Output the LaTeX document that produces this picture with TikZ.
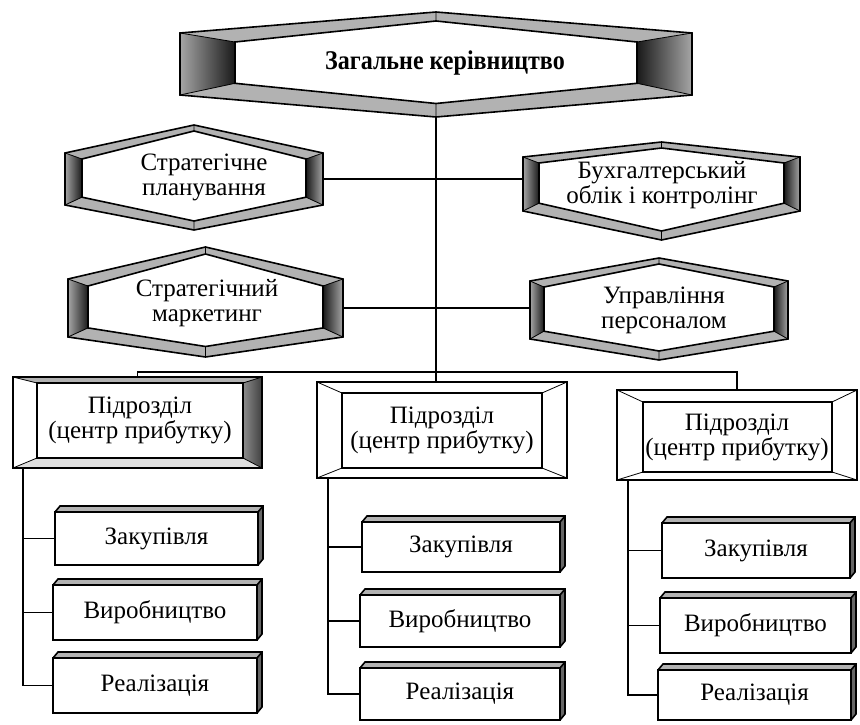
\documentclass[tikz,border=0pt]{standalone}
\usepackage{graphicx}
\usepackage{fontspec}
\setmainfont{Liberation Serif}
\usetikzlibrary{calc}

\tikzset{
  outline/.style={line width=1.6pt, line join=miter},
  thinline/.style={line width=0.8pt},
  conn/.style={line width=1.3pt},
  band/.style={fill=black!30},
  frame/.style={inner sep=0pt, outer sep=0pt, draw=none},
  txt/.style={align=center, inner sep=0pt, font=\fontsize{25}{25}\selectfont},
  ttl/.style={align=center, inner sep=0pt, font=\fontsize{27}{28}\selectfont\bfseries},
}

% Bevelled hexagon: #1 name, #2 left x, #3 right x, #4 top of sides, #5 bottom of sides,
% #6 top apex, #7 bottom apex, #8 side bevel width, #9 top/bottom bevel width
\newcommand\hexframe[9]{%
  \pgfmathsetmacro\hxM{(#2+#3)/2}%
  \pgfmathsetmacro\hxC{(#4+#5)/2}%
  \pgfmathsetmacro\hxW{#3-#2}%
  \pgfmathsetmacro\hxH{#5-#4}%
  \pgfmathsetmacro\hxL{#2+#8}%
  \pgfmathsetmacro\hxR{#3-#8}%
  \pgfmathsetmacro\hxT{#4+#9}%
  \pgfmathsetmacro\hxB{#5-#9*1.3}%
  \pgfmathsetmacro\hxAT{#6+#9}%
  \pgfmathsetmacro\hxAB{#7-#9*1.5}%
  \node[frame, minimum width=\hxW, minimum height=\hxH] (#1) at (\hxM,\hxC) {};
  \coordinate (#1-top) at (\hxM,#6);
  \coordinate (#1-bot) at (\hxM,#7);
  \fill[band] (#2,#4) -- (\hxM,#6) -- (#3,#4) -- (\hxR,\hxT) -- (\hxM,\hxAT) -- (\hxL,\hxT) -- cycle;
  \fill[band] (#2,#5) -- (\hxM,#7) -- (#3,#5) -- (\hxR,\hxB) -- (\hxM,\hxAB) -- (\hxL,\hxB) -- cycle;
  \shade[left color=black!35, middle color=black!40, right color=black!90]
    (#2,#4) -- (\hxL,\hxT) -- (\hxL,\hxB) -- (#2,#5) -- cycle;
  \shade[left color=black!90, middle color=black!40, right color=black!35]
    (\hxR,\hxT) -- (#3,#4) -- (#3,#5) -- (\hxR,\hxB) -- cycle;
  \draw[thinline] (#2,#4) -- (\hxL,\hxT) (\hxM,#6) -- (\hxM,\hxAT) (#3,#4) -- (\hxR,\hxT)
    (#3,#5) -- (\hxR,\hxB) (\hxM,#7) -- (\hxM,\hxAB) (#2,#5) -- (\hxL,\hxB);
  \draw[outline] (#2,#4) -- (\hxM,#6) -- (#3,#4) -- (#3,#5) -- (\hxM,#7) -- (#2,#5) -- cycle;
  \draw[outline] (\hxL,\hxT) -- (\hxM,\hxAT) -- (\hxR,\hxT) -- (\hxR,\hxB) -- (\hxM,\hxAB) -- (\hxL,\hxB) -- cycle;
}

% Bevelled rectangle: #1 name, #2..#5 outer corners, #6..#9 left/top/right/bottom bevel widths
\newcommand\bevbox[9]{%
  \node[frame, minimum width={#4-#2}, minimum height={#5-#3}] (#1) at ({(#2+#4)/2},{(#3+#5)/2}) {};
  \draw[thinline] (#2,#3) -- ({#2+#6},{#3+#7}) (#4,#3) -- ({#4-#8},{#3+#7})
    (#4,#5) -- ({#4-#8},{#5-#9}) (#2,#5) -- ({#2+#6},{#5-#9});
  \draw[outline] (#2,#3) rectangle (#4,#5);
  \draw[outline] ({#2+#6},{#3+#7}) rectangle ({#4-#8},{#5-#9});
}

% Box with a thin top face and right face: #1 name, #2..#5 front corners, #6 text
\newcommand\subbox[6]{%
  \fill[band] (#2,#3) -- ({#2+5},{#3-6}) -- ({#4+5},{#3-6}) -- (#4,#3) -- cycle;
  \fill[black!60] (#4,#3) -- ({#4+5},{#3-6}) -- ({#4+5},{#5-6}) -- (#4,#5) -- cycle;
  \draw[outline] (#2,#3) -- ({#2+5},{#3-6}) -- ({#4+5},{#3-6}) -- ({#4+5},{#5-6}) -- (#4,#5);
  \draw[outline] ({#4+5},{#3-6}) -- (#4,#3);
  \node[txt, draw, outline, fill=white, minimum width={#4-#2}, minimum height={#5-#3}]
    (#1) at ({(#2+#4)/2},{(#3+#5)/2}) {#6};
}

\begin{document}
\begin{tikzpicture}[x=1pt, y=-1pt]
\fill[white] (0,0) rectangle (860,725);
\useasboundingbox (0,0) rectangle (860,725);

% management level
\hexframe{gen}{180}{692}{33}{95}{12}{117}{55}{9}
\hexframe{plan}{65}{323}{153}{205}{125}{230}{17}{6}
\hexframe{acc}{523}{800}{157}{211}{142}{240}{16}{6}
\hexframe{mkt}{68}{343}{279}{337}{247}{357}{20}{7}
\hexframe{hr}{530}{788}{281}{339}{258}{360}{14}{6}

\node[ttl] (gen-t) at (445,63) {\scalebox{0.89}[1]{Загальне керівництво}};
\node[txt] (plan-t) at (204,177) {Стратегічне\\планування};
\node[txt] (acc-t) at (662,185) {Бухгалтерський\\облік і контролінг};
\node[txt] (mkt-t) at (207,303) {Стратегічний\\маркетинг};
\node[txt] (hr-t) at (664,310) {Управління\\персоналом};

% divisions
\fill[band] (13,377) -- (262,377) -- (243,383) -- (37,383) -- cycle;
\shade[left color=black!45, right color=black!75] (243,383) -- (262,377) -- (262,468) -- (243,458) -- cycle;
\fill[black!12] (37,458) -- (243,458) -- (262,468) -- (13,468) -- cycle;
\bevbox{d1}{13}{377}{262}{468}{24}{6}{19}{10}
\bevbox{d2}{317}{382}{567}{478}{25}{11}{25}{10}
\bevbox{d3}{617}{390}{857}{480}{26}{12}{25}{8}
\node[txt] (d1-t) at (140,420) {Підрозділ\\(центр прибутку)};
\node[txt] (d2-t) at (442,430) {Підрозділ\\(центр прибутку)};
\node[txt] (d3-t) at (737,437) {Підрозділ\\(центр прибутку)};

% functions of each division
\subbox{p1}{55}{512}{258}{565}{Закупівля}
\subbox{v1}{53}{585}{257}{640}{Виробництво}
\subbox{r1}{53}{658}{257}{713}{Реалізація}
\subbox{p2}{362}{522}{560}{572}{Закупівля}
\subbox{v2}{360}{595}{560}{647}{Виробництво}
\subbox{r2}{360}{668}{560}{720}{Реалізація}
\subbox{p3}{662}{523}{850}{578}{Закупівля}
\subbox{v3}{660}{598}{851}{653}{Виробництво}
\subbox{r3}{658}{670}{851}{720}{Реалізація}

% connectors
\coordinate (bus) at (0,372);
\draw[conn] (gen-bot) -- (gen-bot |- d2.north);
\draw[conn] (plan.east) -- (plan.east -| acc.west);
\draw[conn] (mkt.east) -- (mkt.east -| hr.west);
\draw[conn] (d1.north) |- (bus -| d3.north) -- (d3.north);

\coordinate (s1) at (23,468);
\coordinate (s2) at (328,478);
\coordinate (s3) at (628,480);
\draw[conn] (s1) |- (r1.west);
\draw[conn] (s1 |- p1.west) -- (p1.west);
\draw[conn] (s1 |- v1.west) -- (v1.west);
\draw[conn] (s2) |- (r2.west);
\draw[conn] (s2 |- p2.west) -- (p2.west);
\draw[conn] (s2 |- v2.west) -- (v2.west);
\draw[conn] (s3) |- (r3.west);
\draw[conn] (s3 |- p3.west) -- (p3.west);
\draw[conn] (s3 |- v3.west) -- (v3.west);
\end{tikzpicture}
\end{document}
